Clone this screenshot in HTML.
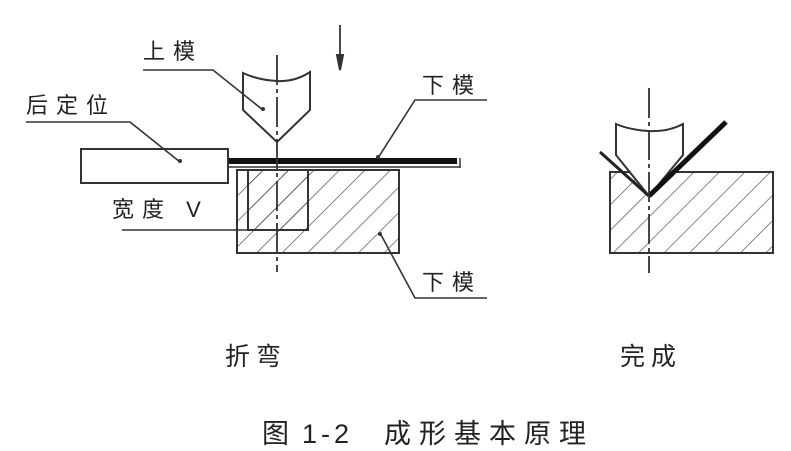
<!DOCTYPE html>
<html><head><meta charset="utf-8"><style>
html,body{margin:0;padding:0;background:#fff;width:791px;height:451px;overflow:hidden}
svg{display:block}
text{font-family:"Liberation Sans","Noto Sans CJK SC",sans-serif;fill:#222}
</style></head><body>
<svg width="791" height="451" viewBox="0 0 791 451" xmlns="http://www.w3.org/2000/svg">
<defs>
<pattern id="h" patternUnits="userSpaceOnUse" width="18" height="18" patternTransform="rotate(45)">
<line x1="0" y1="0" x2="0" y2="18" stroke="#444" stroke-width="1.3"/>
</pattern>
</defs>
<g stroke="#333" stroke-width="2" fill="none">
<rect x="237" y="170" width="162" height="83" fill="url(#h)"/>
<rect x="248" y="170" width="60" height="60" fill="url(#h)"/>
<rect x="81" y="149" width="147" height="34" fill="#fff"/>
<path d="M243 73 L243 110 L277 142 L310 110 L310 72 Q295 82 277 81 Q258 80 243 73 Z" fill="#fff"/>
<line x1="229" y1="161" x2="457" y2="161" stroke="#111" stroke-width="6"/>
<line x1="229" y1="167" x2="460" y2="167" stroke-width="1.5"/>
<line x1="460" y1="158" x2="460" y2="168" stroke-width="1.5"/>
<line x1="277" y1="55" x2="277" y2="272" stroke-dasharray="30 4 4 4" stroke-width="1.8"/>
<line x1="340" y1="25" x2="340" y2="60" stroke-width="1.8"/>
<path d="M337 55 L340 70 L343 55 Z" fill="#333"/>
<polyline points="143,70 213,70 263,110" stroke-width="1.6"/>
<polyline points="26,122 130,122 180,162" stroke-width="1.6"/>
<polyline points="487,100 415,100 378,158" stroke-width="1.6"/>
<polyline points="122,230 306,230" stroke-width="1.6"/>
<polyline points="487,298 415,298 380,233" stroke-width="1.6"/>
<rect x="610" y="172" width="163" height="81" fill="url(#h)"/>
<path d="M616 124 L616 155 L649 196 L683 155 L683 124 Q668 132 649 131 Q630 130 616 124 Z" fill="#fff"/>
<line x1="600" y1="152" x2="649" y2="196" stroke="#222" stroke-width="3"/>
<line x1="649" y1="196" x2="726" y2="122" stroke="#111" stroke-width="5"/>
<line x1="649" y1="88" x2="649" y2="273" stroke-dasharray="30 4 4 4" stroke-width="1.8"/>
</g>
<g fill="#333">
<circle cx="263" cy="109" r="2"/><circle cx="180" cy="161" r="2"/><circle cx="378" cy="157" r="2"/><circle cx="380" cy="234" r="2"/>
</g>
<g font-size="22">
<text x="143" y="59" letter-spacing="8">上模</text>
<text x="26" y="113" letter-spacing="8">后定位</text>
<text x="422" y="93" letter-spacing="8">下模</text>
<text x="112" y="217" letter-spacing="8">宽度 V</text>
<text x="422" y="290" letter-spacing="8">下模</text>
</g>
<g font-size="25">
<text x="225" y="365" letter-spacing="6">折弯</text>
<text x="620" y="365" letter-spacing="6">完成</text>
<text y="443" font-size="27"><tspan x="262">图</tspan><tspan x="302" letter-spacing="4">1-2</tspan><tspan x="384" letter-spacing="8">成形基本原理</tspan></text>
</g>
</svg>
</body></html>
